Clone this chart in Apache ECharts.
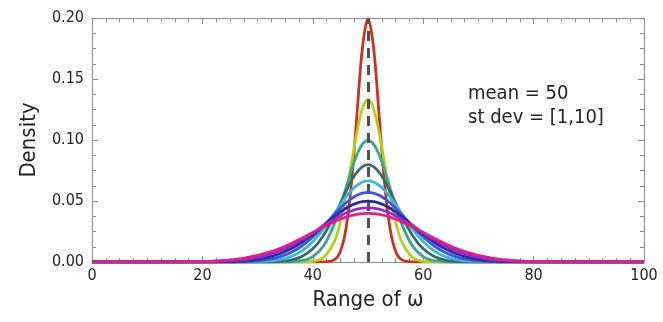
<!DOCTYPE html>
<html>
<head>
<meta charset="utf-8">
<script src="https://cdn.jsdelivr.net/npm/echarts@6/dist/echarts.min.js"></script>
<style>
html,body{margin:0;padding:0;background:#fff;}
#chart{width:663px;height:322px;}
</style>
</head>
<body>
<div id="chart"></div>
<script>
// x positions (Range of ω)
const xValues = [0,10,20,24,26,28,30,32,34,36,38,40,42,44,45,46,47,48,49,50,51,52,53,54,55,56,58,60,62,64,66,68,70,72,74,76,80,90,100];

// densities (mean = 50, st dev 2..10)
const sd2  = [0,0,0,0,0,0,0,0,0,0,0,0,0.0001,0.0022,0.0088,0.0270,0.0648,0.1210,0.1760,0.1995,0.1760,0.1210,0.0648,0.0270,0.0088,0.0022,0.0001,0,0,0,0,0,0,0,0,0,0,0,0];
const sd3  = [0,0,0,0,0,0,0,0,0,0,0,0.0005,0.0038,0.0180,0.0332,0.0547,0.0807,0.1065,0.1258,0.1330,0.1258,0.1065,0.0807,0.0547,0.0332,0.0180,0.0038,0.0005,0,0,0,0,0,0,0,0,0,0,0];
const sd4  = [0,0,0,0,0,0,0,0,0,0.0002,0.0011,0.0044,0.0135,0.0324,0.0457,0.0605,0.0753,0.0880,0.0967,0.0997,0.0967,0.0880,0.0753,0.0605,0.0457,0.0324,0.0135,0.0044,0.0011,0.0002,0,0,0,0,0,0,0,0,0];
const sd5  = [0,0,0,0,0,0,0,0.0001,0.0005,0.0016,0.0045,0.0108,0.0222,0.0388,0.0484,0.0579,0.0667,0.0737,0.0782,0.0798,0.0782,0.0737,0.0667,0.0579,0.0484,0.0388,0.0222,0.0108,0.0045,0.0016,0.0005,0.0001,0,0,0,0,0,0,0];
const sd6  = [0,0,0,0,0,0.0001,0.0003,0.0007,0.0019,0.0044,0.0090,0.0166,0.0273,0.0403,0.0470,0.0532,0.0587,0.0629,0.0656,0.0665,0.0656,0.0629,0.0587,0.0532,0.0470,0.0403,0.0273,0.0166,0.0090,0.0044,0.0019,0.0007,0.0003,0.0001,0,0,0,0,0];
const sd7  = [0,0,0,0.0001,0.0002,0.0004,0.0010,0.0021,0.0042,0.0077,0.0131,0.0205,0.0297,0.0395,0.0442,0.0484,0.0520,0.0547,0.0564,0.0570,0.0564,0.0547,0.0520,0.0484,0.0442,0.0395,0.0297,0.0205,0.0131,0.0077,0.0042,0.0021,0.0010,0.0004,0.0002,0.0001,0,0,0];
const sd8  = [0,0,0,0.0003,0.0006,0.0011,0.0022,0.0040,0.0068,0.0108,0.0162,0.0228,0.0303,0.0376,0.0410,0.0440,0.0465,0.0483,0.0495,0.0499,0.0495,0.0483,0.0465,0.0440,0.0410,0.0376,0.0303,0.0228,0.0162,0.0108,0.0068,0.0040,0.0022,0.0011,0.0006,0.0003,0,0,0];
const sd9  = [0,0,0.0002,0.0007,0.0013,0.0022,0.0038,0.0060,0.0091,0.0132,0.0182,0.0239,0.0299,0.0355,0.0380,0.0402,0.0419,0.0433,0.0441,0.0443,0.0441,0.0433,0.0419,0.0402,0.0380,0.0355,0.0299,0.0239,0.0182,0.0132,0.0091,0.0060,0.0038,0.0022,0.0013,0.0007,0.0002,0,0];
const sd10 = [0,0,0.0004,0.0014,0.0022,0.0036,0.0054,0.0079,0.0111,0.0150,0.0194,0.0242,0.0290,0.0333,0.0352,0.0368,0.0381,0.0391,0.0397,0.0399,0.0397,0.0391,0.0381,0.0368,0.0352,0.0333,0.0290,0.0242,0.0194,0.0150,0.0111,0.0079,0.0054,0.0036,0.0022,0.0014,0.0004,0,0];

const seriesNames = ['sd 2','sd 3','sd 4','sd 5','sd 6','sd 7','sd 8','sd 9','sd 10'];
const seriesValues = [sd2, sd3, sd4, sd5, sd6, sd7, sd8, sd9, sd10];
const meanValue = 50;
const xTicks = [0, 20, 40, 60, 80, 100];
const yTicks = [0, 0.05, 0.10, 0.15, 0.20];
const annotation = ['mean = 50', 'st dev = [1,10]'];

const colors = ['#c8321e','#b8cc1c','#3aa888','#3c6a6a','#3cb8d8','#3c55e0','#28308e','#9428d0','#e0208a'];
const FONT = '"Liberation Sans Narrow","DejaVu Sans Condensed","Roboto",sans-serif';
const AX = '#8a8a8a';

const chart = echarts.init(document.getElementById('chart'), null, {renderer: 'canvas'});

function zip(vals){ return xValues.map((x, i) => [x, vals[i]]); }

const series = seriesValues.map((vals, i) => ({
  name: seriesNames[i],
  type: 'line',
  data: zip(vals),
  showSymbol: false,
  symbol: 'none',
  smooth: 0.35,
  lineStyle: {color: colors[i], width: 2.8},
  z: 2 + i
}));

series.push({
  name: 'mean',
  type: 'line',
  data: [],
  symbol: 'none',
  z: 20,
  markLine: {
    silent: true,
    symbol: 'none',
    label: {show: false},
    lineStyle: {color: '#505050', type: [10, 7], width: 3},
    data: [{xAxis: meanValue}]
  }
});

const axisCommon = {
  axisLine: {show: true, onZero: false, lineStyle: {color: AX, width: 1}},
  splitLine: {show: false},
};

chart.setOption({
  animation: false,
  backgroundColor: '#fff',
  grid: {left: 92, right: 19, top: 18, bottom: 60, show: false},
  xAxis: [{
    type: 'value', min: 0, max: 100, interval: 20,
    name: 'Range of ω', nameLocation: 'middle', nameGap: 26,
    nameTextStyle: {fontFamily: FONT, fontSize: 22, color: '#222'},
    axisLabel: {fontFamily: FONT, fontSize: 16, color: '#222', margin: 6,
      formatter: v => xTicks.includes(v) ? String(v) : ''},
    axisTick: {show: true, inside: true, length: 6, lineStyle: {color: AX}},
    minorTick: {show: true, splitNumber: 8, length: 4, lineStyle: {color: AX}},
    ...axisCommon
  }, {
    type: 'value', min: 0, max: 100, interval: 20, position: 'top',
    axisLabel: {show: false},
    axisTick: {show: true, inside: true, length: 6, lineStyle: {color: AX}},
    minorTick: {show: true, splitNumber: 8, length: 4, lineStyle: {color: AX}},
    ...axisCommon
  }],
  yAxis: [{
    type: 'value', min: 0, max: 0.2, interval: 0.05,
    name: 'Density', nameLocation: 'middle', nameGap: 52,
    nameTextStyle: {fontFamily: FONT, fontSize: 22, color: '#222'},
    axisLabel: {fontFamily: FONT, fontSize: 16, color: '#222', margin: 8,
      formatter: v => v.toFixed(2)},
    axisTick: {show: true, inside: true, length: 6, lineStyle: {color: AX}},
    minorTick: {show: true, splitNumber: 4, length: 4, lineStyle: {color: AX}},
    ...axisCommon
  }, {
    type: 'value', min: 0, max: 0.2, interval: 0.05, position: 'right',
    axisLabel: {show: false},
    axisTick: {show: true, inside: true, length: 6, lineStyle: {color: AX}},
    minorTick: {show: true, splitNumber: 4, length: 4, lineStyle: {color: AX}},
    ...axisCommon
  }],
  graphic: [{
    type: 'text', left: 468, top: 82,
    style: {text: annotation.join('\n'), font: '20px ' + FONT, fill: '#222', lineHeight: 24}
  }],
  series: series
});
</script>
</body>
</html>
